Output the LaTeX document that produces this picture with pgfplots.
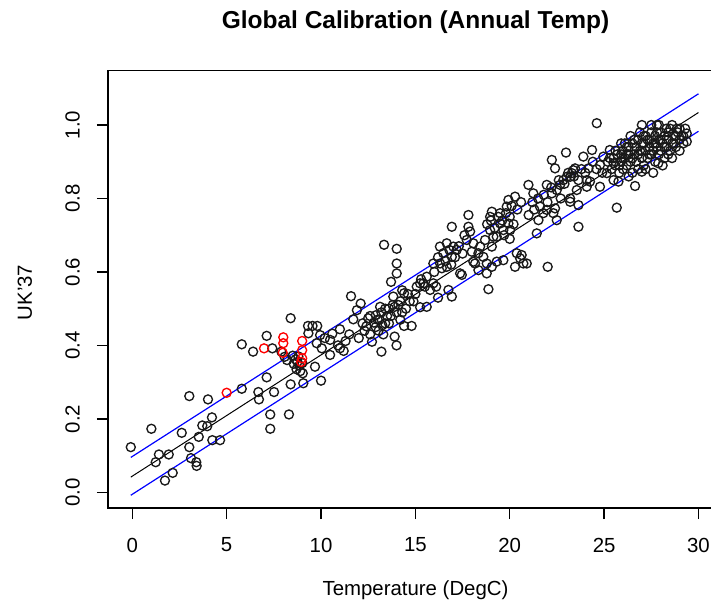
\documentclass[border=0pt]{standalone}
\usepackage{fontspec}
\setmainfont{Liberation Sans}
\usepackage{pgfplots}
\pgfplotsset{compat=1.18}
\pgfkeys{/pgf/number format/assume math mode=true}
\begin{document}
\begin{tikzpicture}[x=1pt,y=1pt]
\useasboundingbox (0,0) rectangle (711,608);
\begin{axis}[
  at={(108pt,100pt)}, anchor=south west,
  scale only axis, width=615pt, height=437.7pt,
  xmin=-1.288, xmax=31.3, ymin=-0.0427, ymax=1.149,
  axis line style={line width=1.4pt},
  every tick/.style={black, line width=1.4pt},
  tick align=outside, major tick length=11pt,
  xtick={0,5,10,15,20,25,30}, ytick={0,0.2,0.4,0.6,0.8,1.0},
  xtick pos=left, ytick pos=left,
  font=\fontsize{20.4}{24}\selectfont,
  tick label style={font=\fontsize{20.4}{24}\selectfont},
  yticklabel={\pgfmathprintnumber[fixed,fixed zerofill,precision=1]{\tick}},
  xticklabel style={anchor=center, yshift=-26pt},
  yticklabel style={xshift=-24.5pt, rotate=90, anchor=center},
  title={Global Calibration (Annual Temp)},
  title style={at={(axis description cs:0.5,1.097)}, anchor=center, font=\bfseries\fontsize{24.5}{28}\selectfont},
  xlabel={Temperature (DegC)},
  xlabel style={at={(axis description cs:0.5,-0.188)}, anchor=center},
  ylabel={UK'37},
  ylabel style={at={(axis description cs:-0.135,0.4924)}, anchor=center},
]
\addplot[only marks, mark=o, mark size=4.5pt, mark options={line width=1.35pt, black!90}] table {
x y
-0.08 0.123
1.01 0.173
1.24 0.082
1.41 0.103
1.73 0.032
1.93 0.103
2.14 0.053
2.62 0.162
3.02 0.262
3.02 0.123
3.11 0.093
3.39 0.082
3.41 0.072
3.52 0.151
3.71 0.182
3.97 0.180
4.01 0.253
4.22 0.204
4.24 0.142
4.65 0.142
5.80 0.282
5.80 0.403
6.40 0.383
6.68 0.273
6.71 0.253
7.12 0.426
7.12 0.313
7.31 0.212
7.31 0.173
7.42 0.392
7.51 0.273
7.90 0.383
8.07 0.369
8.20 0.360
8.30 0.212
8.39 0.474
8.39 0.294
8.50 0.372
8.55 0.350
8.70 0.335
8.75 0.355
8.85 0.345
8.90 0.330
8.80 0.370
8.65 0.362
9.03 0.324
9.06 0.297
9.01 0.352
9.31 0.453
9.33 0.433
9.55 0.453
9.80 0.453
9.68 0.342
9.77 0.406
9.95 0.428
10.04 0.392
10.00 0.304
10.20 0.420
10.48 0.374
10.48 0.415
10.60 0.432
10.90 0.400
11.00 0.444
11.00 0.392
11.20 0.385
11.30 0.412
11.50 0.430
11.59 0.534
11.71 0.471
11.90 0.496
12.00 0.420
12.10 0.514
12.20 0.460
12.30 0.440
12.40 0.452
12.50 0.474
12.60 0.430
12.60 0.480
12.70 0.410
12.80 0.462
12.90 0.482
12.90 0.450
13.00 0.470
13.05 0.440
13.10 0.470
13.13 0.505
13.20 0.490
13.20 0.383
13.25 0.455
13.30 0.430
13.34 0.674
13.40 0.500
13.40 0.460
13.50 0.480
13.60 0.460
13.60 0.500
13.70 0.480
13.71 0.573
13.80 0.510
13.83 0.533
13.90 0.505
13.90 0.424
14.00 0.400
14.00 0.490
14.01 0.663
14.01 0.623
14.01 0.596
14.10 0.510
14.20 0.520
14.20 0.470
14.30 0.490
14.30 0.550
14.40 0.542
14.40 0.453
14.50 0.500
14.60 0.540
14.70 0.520
14.80 0.453
14.90 0.520
15.00 0.540
15.07 0.560
15.25 0.504
15.25 0.569
15.30 0.580
15.42 0.569
15.50 0.560
15.60 0.505
15.60 0.587
15.78 0.551
15.95 0.623
15.95 0.569
16.00 0.600
16.10 0.560
16.20 0.530
16.20 0.640
16.31 0.623
16.30 0.669
16.40 0.610
16.48 0.651
16.60 0.630
16.66 0.678
16.66 0.614
16.75 0.551
16.80 0.660
16.90 0.620
16.93 0.723
16.93 0.641
16.93 0.533
17.01 0.669
17.10 0.640
17.19 0.660
17.30 0.670
17.37 0.596
17.46 0.592
17.50 0.650
17.60 0.700
17.72 0.687
17.81 0.755
17.81 0.723
17.90 0.710
17.99 0.655
18.07 0.678
18.07 0.628
18.16 0.623
18.34 0.651
18.34 0.605
18.43 0.669
18.60 0.641
18.69 0.687
18.78 0.596
18.78 0.623
18.80 0.730
18.87 0.553
18.96 0.714
18.96 0.750
19.00 0.740
19.05 0.764
19.05 0.669
19.05 0.614
19.13 0.696
19.20 0.720
19.31 0.696
19.31 0.628
19.40 0.750
19.49 0.760
19.49 0.732
19.60 0.740
19.66 0.714
19.66 0.632
19.70 0.700
19.80 0.760
19.84 0.778
19.93 0.796
19.93 0.732
20.00 0.750
20.00 0.690
20.02 0.714
20.10 0.780
20.20 0.730
20.28 0.805
20.28 0.614
20.37 0.651
20.40 0.770
20.55 0.637
20.60 0.790
20.63 0.646
20.72 0.623
20.90 0.623
20.99 0.837
21.00 0.755
21.20 0.790
21.25 0.814
21.30 0.770
21.43 0.705
21.50 0.800
21.52 0.741
21.60 0.778
21.78 0.760
21.80 0.810
21.96 0.769
21.96 0.837
22.00 0.790
22.01 0.614
22.20 0.830
22.23 0.814
22.23 0.905
22.31 0.760
22.40 0.773
22.40 0.882
22.49 0.823
22.49 0.741
22.60 0.850
22.67 0.837
22.70 0.800
22.84 0.850
22.90 0.840
22.98 0.925
23.02 0.859
23.10 0.870
23.20 0.791
23.20 0.859
23.20 0.800
23.29 0.869
23.37 0.877
23.40 0.860
23.46 0.882
23.55 0.823
23.64 0.850
23.64 0.723
23.64 0.782
23.80 0.880
23.90 0.914
24.00 0.870
24.08 0.832
24.08 0.850
24.17 0.882
24.25 0.846
24.36 0.932
24.40 0.900
24.60 0.880
24.61 1.005
24.78 0.891
24.78 0.832
24.90 0.870
24.96 0.914
25.14 0.869
25.20 0.900
25.30 0.932
25.30 0.910
25.40 0.880
25.50 0.910
25.50 0.896
25.50 0.850
25.60 0.890
25.60 0.930
25.67 0.775
25.70 0.920
25.76 0.846
25.80 0.870
25.80 0.890
25.90 0.900
25.90 0.950
25.90 0.920
26.00 0.930
26.00 0.880
26.00 0.910
26.10 0.910
26.10 0.950
26.20 0.940
26.20 0.890
26.20 0.920
26.30 0.920
26.30 0.860
26.30 0.940
26.40 0.900
26.40 0.970
26.50 0.950
26.50 0.870
26.50 0.910
26.60 0.920
26.60 0.960
26.64 0.834
26.70 0.940
26.70 0.900
26.80 0.960
26.80 0.880
26.80 0.920
26.90 0.930
26.90 0.980
27.00 0.950
27.00 0.910
27.00 0.873
27.00 1.000
27.00 0.930
27.10 0.970
27.10 0.890
27.10 0.950
27.20 0.930
27.20 0.880
27.20 0.970
27.30 0.960
27.30 0.910
27.40 0.940
27.40 0.920
27.40 0.960
27.50 0.980
27.50 0.920
27.50 1.000
27.60 0.950
27.60 0.870
27.60 0.930
27.70 0.970
27.70 0.900
27.70 0.950
27.80 0.940
27.80 1.000
27.80 0.980
27.87 0.896
27.90 0.960
27.90 1.000
27.90 0.920
28.00 0.980
28.00 0.930
28.00 0.960
28.10 0.950
28.10 0.890
28.20 0.970
28.20 0.910
28.20 0.940
28.30 0.940
28.30 0.990
28.40 0.960
28.40 0.920
28.40 0.980
28.50 0.990
28.50 0.930
28.60 0.950
28.60 1.000
28.60 0.910
28.70 0.970
28.70 0.950
28.80 0.940
28.80 0.970
28.85 0.990
28.90 0.980
29.00 0.960
29.00 0.930
29.00 0.990
29.10 0.970
29.20 0.950
29.20 0.970
29.30 0.990
29.38 0.977
29.38 0.955
};
\addplot[only marks, mark=o, mark size=4.5pt, mark options={line width=1.35pt, red}] table {
x y
5.00 0.271
6.98 0.392
8.00 0.422
8.00 0.406
7.97 0.380
9.00 0.412
9.00 0.387
9.00 0.365
8.95 0.355
};
\addplot[black, line width=1pt] coordinates {(-0.08,0.0414) (30,1.034)};
\addplot[blue, line width=1.2pt] coordinates {(-0.08,0.095) (30,1.085)};
\addplot[blue, line width=1.2pt] coordinates {(-0.08,-0.008) (30,0.983)};
\end{axis}
\end{tikzpicture}
\end{document}
